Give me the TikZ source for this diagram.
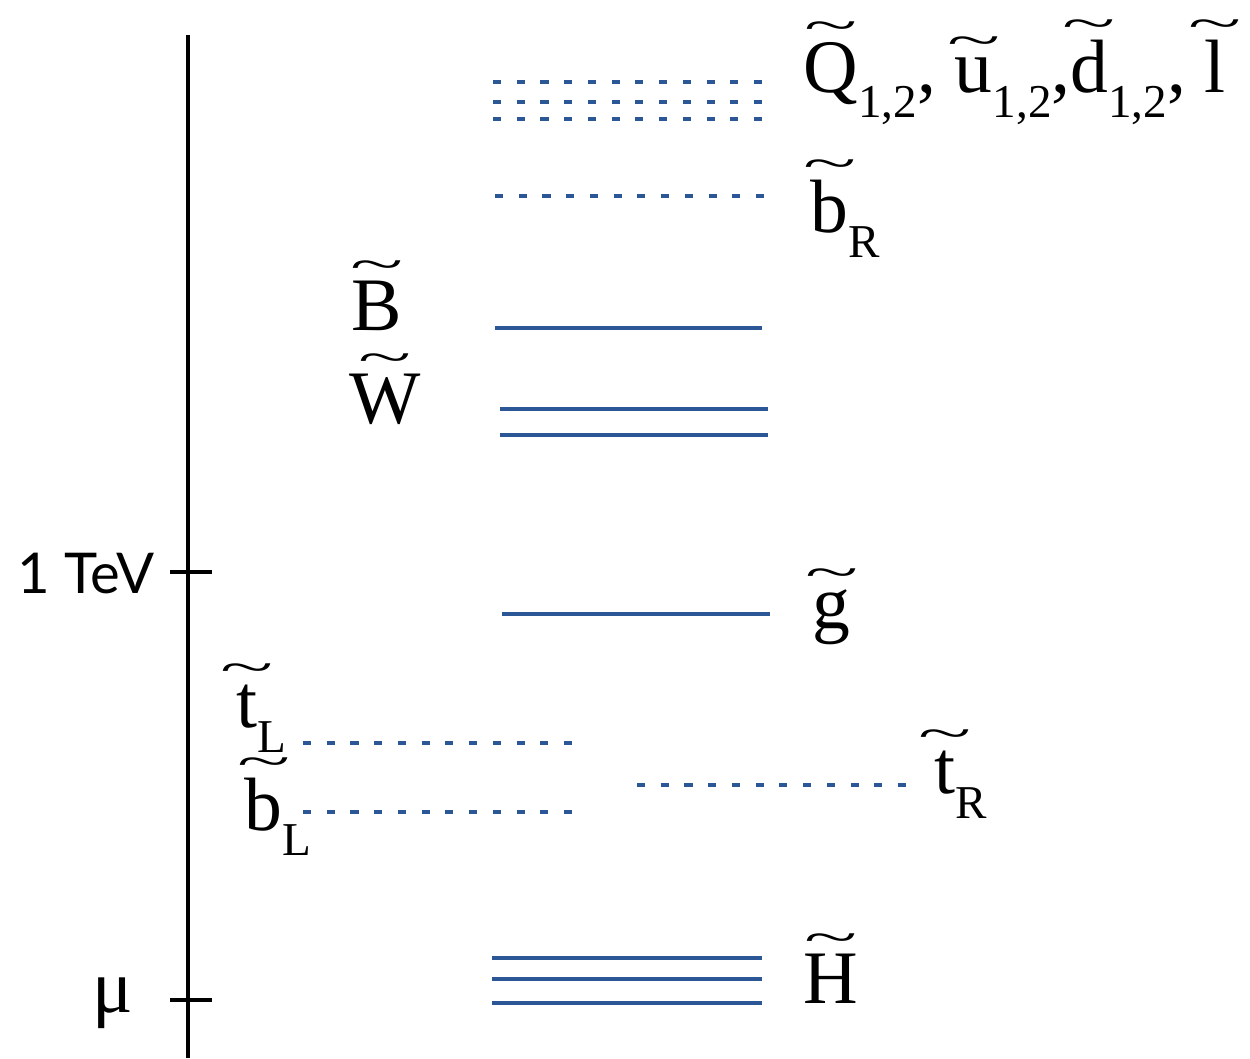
\documentclass[tikz,border=0pt]{standalone}
\usepackage{fontspec}
\setmainfont{Liberation Serif}
\newfontfamily\tevfont{Lato}
\usetikzlibrary{positioning}
\definecolor{LevelBlue}{HTML}{2B5797}
% letter with a wide tilde set above it
\newcommand{\spart}[1]{%
  \setbox0\hbox{#1}%
  \hbox to \wd0{\hss\raisebox{\dimexpr\ht0+0.02em\relax}[0pt][0pt]{\scalebox{1.3}[0.6]{\char"7E}}\hss}%
  \kern-\wd0\box0}
\newcommand{\lowsub}[1]{\raisebox{-7.3pt}{\fontsize{13.4}{16}\selectfont #1}}

\begin{document}
\begin{tikzpicture}[
    solidlvl/.style={
      draw=LevelBlue,
      line width=1.1pt
    },
    dotlvl/.style={
      draw=LevelBlue,
      line width=0.9pt,
      dash pattern=on 2.3pt off 4.45pt
    },
    sparticle/.style={
      inner sep=0pt,
      anchor=base west,
      font=\fontsize{21.5}{26}\selectfont
    },
    axlabel/.style={
      inner sep=0pt,
      anchor=base east
    }
  ]
  \useasboundingbox (0,0) rectangle (12.5,-10.58);

  % mass axis
  \draw[line width=1pt] (1.88,-0.35) -- (1.88,-10.58);
  \coordinate (tev) at (1.88,-5.72);
  \coordinate (mu) at (1.88,-10.0);
  \draw[line width=1pt] ([xshift=-0.18cm]tev) -- ([xshift=0.24cm]tev);
  \draw[line width=1pt] ([xshift=-0.18cm]mu) -- ([xshift=0.24cm]mu);
  \node[axlabel, font=\tevfont\fontsize{16}{19}\selectfont] (tevlabel) at (1.55,-5.93) {1 TeV};
  \node[sparticle] (mulabel) at (0.92,-10.12) {μ};

  % first two generations
  \foreach \y in {0.82,1.02,1.19}
    \draw[dotlvl] (4.93,-\y) -- (7.63,-\y);
  \node[sparticle] (sq12) at (8.03,-0.92)
    {\spart{Q}\lowsub{1,2}, \spart{u}\lowsub{1,2},\spart{d}\lowsub{1,2}, \spart{l}};

  \draw[dotlvl] (4.95,-1.96) -- (7.65,-1.96);
  \node[sparticle] (sbR) at (8.10,-2.32) {\spart{b}\lowsub{R}};

  % gauginos
  \draw[solidlvl] (4.95,-3.28) -- (7.62,-3.28);
  \node[sparticle] (bino) at (3.51,-3.30) {\spart{B}};
  \draw[solidlvl] (5.00,-4.09) -- (7.68,-4.09);
  \draw[solidlvl] (5.00,-4.35) -- (7.68,-4.35);
  \node[sparticle] (wino) at (3.49,-4.23) {\spart{W}};

  \draw[solidlvl] (5.02,-6.14) -- (7.70,-6.14);
  \node[sparticle] (gluino) at (8.12,-6.28) {\spart{g}};

  % third generation
  \draw[dotlvl] (3.03,-7.43) -- (5.73,-7.43);
  \node[sparticle] (stL) at (2.36,-7.27) {\spart{t}\lowsub{L}};
  \draw[dotlvl] (3.03,-8.12) -- (5.73,-8.12);
  \node[sparticle] (sbL) at (2.44,-8.30) {\spart{b}\lowsub{L}};
  \draw[dotlvl] (6.37,-7.85) -- (9.10,-7.85);
  \node[sparticle] (stR) at (9.34,-7.93) {\spart{t}\lowsub{R}};

  % higgsinos
  \foreach \y in {9.58,9.79,10.03}
    \draw[solidlvl] (4.92,-\y) -- (7.62,-\y);
  \node[sparticle] (higgsino) at (8.03,-10.03) {\spart{H}};

\end{tikzpicture}
\end{document}
